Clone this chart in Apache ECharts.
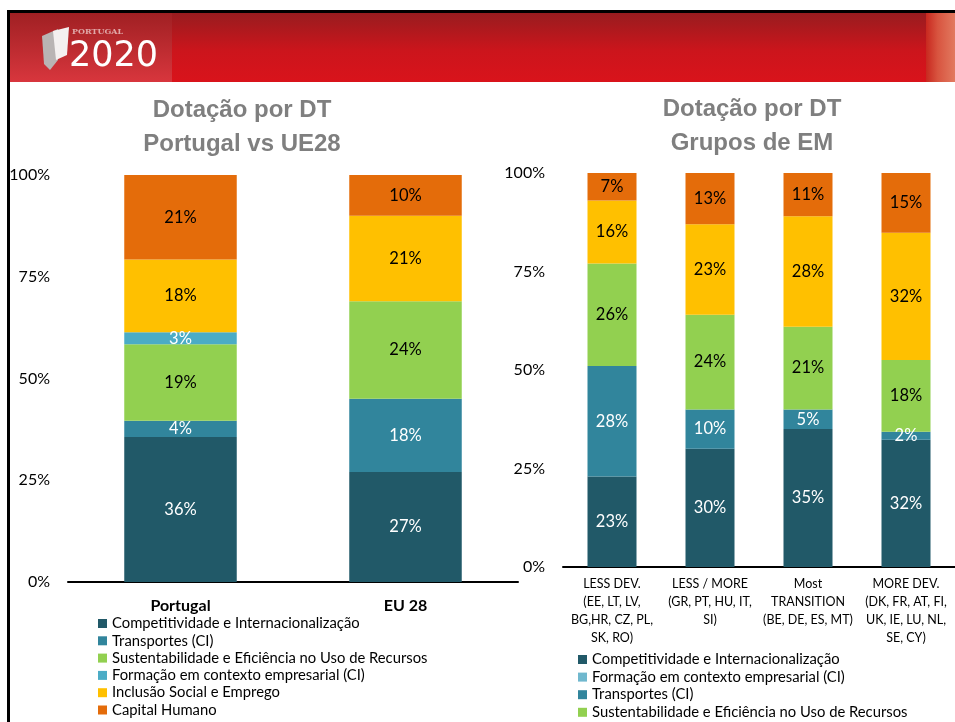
<!DOCTYPE html>
<html lang="pt">
<head>
    <meta charset="UTF-8">
    <title>Dotação por DT</title>
    <script src="https://cdn.jsdelivr.net/npm/echarts@6.0.0/dist/echarts.min.js"></script>
    <style>
        body{
            margin: 0;
            background-color: #ffffff;
        }
        #main{
            width: 955px;
            height: 722px;
        }
    </style>
</head>
<body>
<div id="main"></div>

<script>
    // nomes das dotações temáticas
    var nomeComp = 'Competitividade e Internacionalização';
    var nomeTransp = 'Transportes (CI)';
    var nomeSust = 'Sustentabilidade e Eficiência no Uso de Recursos';
    var nomeForm = 'Formação em contexto empresarial (CI)';
    var nomeIncl = 'Inclusão Social e Emprego';
    var nomeCap = 'Capital Humano';

    // Portugal vs UE28 (valores em %)
    var ptCategorias = ['Portugal', 'EU 28'];
    var ptComp = [36, 27];
    var ptTransp = [4, 18];
    var ptSust = [19, 24];
    var ptForm = [3, 0];
    var ptIncl = [18, 21];
    var ptCap = [21, 10];

    // Grupos de EM (valores em %)
    var emCategorias = [
        'LESS DEV.\n(EE, LT, LV,\nBG,HR, CZ, PL,\nSK, RO)',
        'LESS / MORE\n(GR, PT, HU, IT,\nSI)',
        'Most\nTRANSITION\n(BE, DE, ES, MT)',
        'MORE DEV.\n(DK, FR, AT, FI,\nUK, IE, LU, NL,\nSE, CY)'
    ];
    var emComp = [23, 30, 35, 32];
    var emTransp = [28, 10, 5, 2];
    var emSust = [26, 24, 21, 18];
    var emForm = [0, 0, 0, 0];
    var emIncl = [16, 23, 28, 32];
    var emCap = [7, 13, 11, 15];

    var yTicks = [0, 25, 50, 75, 100];

    var cores = {};
    cores[nomeComp] = '#215968';
    cores[nomeTransp] = '#31859c';
    cores[nomeSust] = '#92d050';
    cores[nomeForm] = '#4bacc6';
    cores[nomeIncl] = '#ffc000';
    cores[nomeCap] = '#e46c0a';

    var fonte = 'Lato, "Open Sans", sans-serif';

    // colunas empilhadas a 100%
    function totais(listas) {
        return listas[0].map(function (v, i) {
            var s = 0;
            listas.forEach(function (l) { s += l[i]; });
            return s;
        });
    }

    function serie(nome, valores, soma, eixo, pilha, branco) {
        return {
            name: nome,
            type: 'bar',
            stack: pilha,
            xAxisIndex: eixo,
            yAxisIndex: eixo,
            barWidth: '50%',
            itemStyle: {color: cores[nome]},
            label: {
                show: true,
                position: 'inside',
                color: branco ? '#ffffff' : '#000000',
                fontFamily: fonte,
                fontSize: 16.5,
                formatter: function (p) {
                    return p.data.raw ? p.data.raw + '%' : '';
                }
            },
            data: valores.map(function (v, i) {
                return {value: v / soma[i] * 100, raw: v};
            })
        };
    }

    var ptSoma = totais([ptComp, ptTransp, ptSust, ptForm, ptIncl, ptCap]);
    var emSoma = totais([emComp, emTransp, emSust, emForm, emIncl, emCap]);

    var myChart = echarts.init(document.getElementById('main'));

    var option = {
        animation: false,
        graphic: [
            {type: 'rect', shape: {x: 7, y: 10, width: 948, height: 3}, style: {fill: '#000'}},
            {type: 'rect', shape: {x: 7, y: 10, width: 3, height: 712}, style: {fill: '#000'}},
            {
                type: 'rect', shape: {x: 10, y: 13, width: 945, height: 69},
                style: {
                    fill: new echarts.graphic.LinearGradient(0, 0, 0, 1, [
                        {offset: 0, color: '#981c1f'},
                        {offset: 0.55, color: '#cc151c'},
                        {offset: 1, color: '#d9131b'}
                    ])
                }
            },
            {
                type: 'rect', shape: {x: 10, y: 13, width: 162, height: 69},
                style: {
                    fill: new echarts.graphic.LinearGradient(0, 0, 0, 1, [
                        {offset: 0, color: '#a02023'},
                        {offset: 1, color: '#d8363d'}
                    ])
                }
            },
            {
                type: 'rect', shape: {x: 926, y: 13, width: 29, height: 69},
                style: {
                    fill: new echarts.graphic.LinearGradient(0, 0, 1, 0, [
                        {offset: 0, color: '#c8281f'},
                        {offset: 0.4, color: '#d8543f'},
                        {offset: 1, color: '#e27a60'}
                    ])
                }
            },
            {
                type: 'polygon',
                shape: {points: [[42, 36], [58, 29], [58, 60], [50, 70], [44, 64]]},
                style: {fill: '#b9b4b4'}
            },
            {
                type: 'polygon',
                shape: {points: [[53, 31], [69, 27], [67, 55], [56, 60]]},
                style: {fill: '#f4f0f0'}
            },
            {
                type: 'text', x: 72, y: 28,
                style: {text: 'PORTUGAL', fill: '#e0a8a8', font: 'bold 8px "DejaVu Serif"'}
            },
            {
                type: 'text', x: 69, y: 39,
                style: {text: '2020', fill: '#ffffff', font: '35px "DejaVu Sans"'}
            },
            {
                type: 'text', x: 242, y: 93,
                style: {
                    text: 'Dotação por DT\nPortugal vs UE28', align: 'center',
                    fill: '#7f7f7f', font: 'bold 24px "Liberation Sans"', lineHeight: 34
                }
            },
            {
                type: 'text', x: 752, y: 92,
                style: {
                    text: 'Dotação por DT\nGrupos de EM', align: 'center',
                    fill: '#7f7f7f', font: 'bold 24px "Liberation Sans"', lineHeight: 34
                }
            }
        ],
        grid: [
            {left: 68, right: 437, top: 175, bottom: 140},
            {left: 563, right: -5, top: 173, bottom: 155}
        ],
        xAxis: [
            {
                type: 'category',
                gridIndex: 0,
                data: ptCategorias,
                axisTick: {show: false},
                axisLine: {lineStyle: {color: '#000', width: 2}},
                axisLabel: {
                    margin: 16, color: '#000', fontFamily: fonte,
                    fontSize: 16, fontWeight: 'bold'
                }
            },
            {
                type: 'category',
                gridIndex: 1,
                data: emCategorias,
                axisTick: {show: false},
                axisLine: {lineStyle: {color: '#000', width: 2}},
                axisLabel: {
                    margin: 8, color: '#000', fontFamily: fonte,
                    fontSize: 12.5, lineHeight: 18, interval: 0
                }
            }
        ],
        yAxis: [0, 1].map(function (g) {
            return {
                type: 'value',
                gridIndex: g,
                min: yTicks[0],
                max: yTicks[yTicks.length - 1],
                interval: yTicks[1] - yTicks[0],
                splitLine: {show: false},
                axisLine: {show: false},
                axisTick: {show: false},
                axisLabel: {
                    margin: 18, color: '#000', fontFamily: fonte, fontSize: 16,
                    formatter: '{value}%'
                }
            };
        }),
        legend: [
            {
                orient: 'vertical',
                left: 98,
                top: 616,
                height: 120,
                padding: 0,
                itemWidth: 9,
                itemHeight: 9,
                itemGap: 2.3,
                icon: 'rect',
                textStyle: {fontFamily: fonte, fontSize: 14.8, color: '#000', lineHeight: 15},
                data: [nomeComp, nomeTransp, nomeSust, nomeForm, nomeIncl, nomeCap]
            },
            {
                orient: 'vertical',
                left: 578,
                top: 652,
                height: 160,
                padding: 0,
                itemWidth: 9,
                itemHeight: 9,
                itemGap: 2.6,
                icon: 'rect',
                textStyle: {fontFamily: fonte, fontSize: 14.8, color: '#000', lineHeight: 15},
                data: [
                    nomeComp,
                    {name: nomeForm, itemStyle: {color: '#70b8ce'}},
                    nomeTransp,
                    nomeSust,
                    nomeCap,
                    nomeIncl
                ]
            }
        ],
        series: [
            serie(nomeComp, ptComp, ptSoma, 0, 'pt', true),
            serie(nomeTransp, ptTransp, ptSoma, 0, 'pt', true),
            serie(nomeSust, ptSust, ptSoma, 0, 'pt', false),
            serie(nomeForm, ptForm, ptSoma, 0, 'pt', true),
            serie(nomeIncl, ptIncl, ptSoma, 0, 'pt', false),
            serie(nomeCap, ptCap, ptSoma, 0, 'pt', false),

            serie(nomeComp, emComp, emSoma, 1, 'em', true),
            serie(nomeTransp, emTransp, emSoma, 1, 'em', true),
            serie(nomeSust, emSust, emSoma, 1, 'em', false),
            serie(nomeForm, emForm, emSoma, 1, 'em', true),
            serie(nomeIncl, emIncl, emSoma, 1, 'em', false),
            serie(nomeCap, emCap, emSoma, 1, 'em', false)
        ]
    };

    myChart.setOption(option);
</script>

</body>
</html>
